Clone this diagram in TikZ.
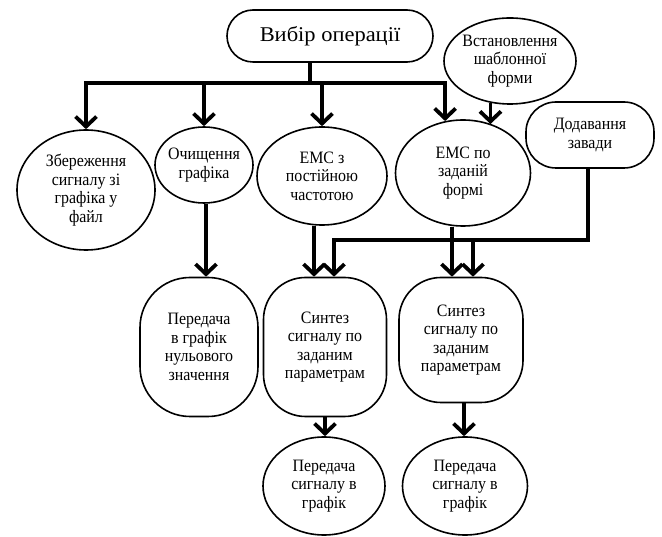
\documentclass[tikz,border=0pt]{standalone}
\usepackage{fontspec}
\setmainfont{Liberation Serif}
\newfontfamily\bodyfont{Liberation Serif}[FakeStretch=0.915]
\usetikzlibrary{shapes.geometric,arrows.meta,backgrounds}
\begin{document}
\begin{tikzpicture}[x=1pt,y=-1pt,
  box/.style={draw, fill=white, line width=1.6pt, align=center, inner sep=-20pt,
    font=\bodyfont\fontsize{17.4}{18.5}\selectfont},
  ell/.style={box, ellipse},
  rr/.style={box, rectangle, rounded corners=#1},
  conn/.style={line width=3.8pt},
  arr/.style={conn, -{Straight Barb[length=10pt,width=21pt]}},
]
\useasboundingbox (0,0) rectangle (662,537);

\node[rr=26pt, minimum width=206pt, minimum height=52pt, font=\fontsize{21}{24}\selectfont] (top) at (330,36) {\scalebox{1.07}[1]{Вибір операції}};
\node[ell, minimum width=132pt, minimum height=86pt] (inst) at (510,61) {Встановлення\\шаблонної\\форми};
\node[ell, minimum width=138pt, minimum height=120pt] (save) at (86,190) {Збереження\\сигналу зі\\графіка у\\файл};
\node[ell, minimum width=98pt, minimum height=76pt] (clean) at (204,165) {Очищення\\графіка};
\node[ell, minimum width=130pt, minimum height=98pt] (emcz) at (322,176) {ЕМС з\\постійною\\частотою};
\node[ell, minimum width=135pt, minimum height=106pt] (emcpo) at (463,173) {ЕМС по\\заданій\\формі};
\node[rr=30pt, minimum width=128pt, minimum height=66pt] (zav) at (590,135) {Додавання\\завади};
\node[rr=50pt, minimum width=118pt, minimum height=139pt] (zero) at (199,347) {Передача\\в графік\\нульового\\значення};
\node[rr=42pt, minimum width=123pt, minimum height=139pt] (synth1) at (325,347) {Синтез\\сигналу по\\заданим\\параметрам};
\node[rr=42pt, minimum width=124pt, minimum height=125pt] (synth2) at (461,340) {Синтез\\сигналу по\\заданим\\параметрам};
\node[ell, minimum width=122pt, minimum height=98pt] (pered1) at (324,486) {Передача\\сигналу в\\графік};
\node[ell, minimum width=125pt, minimum height=98pt] (pered2) at (465,486) {Передача\\сигналу в\\графік};

\begin{scope}[on background layer]
\coordinate (b0) at (310,83);
\coordinate (c2) at (334,240);
\coordinate (c3) at (473,240);
\draw[conn] (b0 |- top.south) -- (b0);
\draw[arr] (b0) -| (save);
\draw[arr] (b0) -| (clean);
\draw[arr] (b0) -| (emcz);
\draw[arr] (b0) -| (emcpo.109);
\draw[arr] (inst.245) -- (inst.245 |- emcpo.60);
\draw[arr] ([xshift=-8pt]emcz.south) -- ([xshift=-8pt]emcz.south |- synth1.north);
\draw[arr] ([xshift=-11pt]emcpo.south) -- ([xshift=-11pt]emcpo.south |- synth2.north);
\draw[arr] ([xshift=-2pt]zav.south) |- (c2) -- (c2 |- synth1.north);
\draw[arr] (c3) -- (c3 |- synth2.north);
\draw[arr] ([xshift=2pt]clean.south) -- ([xshift=2pt]clean.south |- zero.north);
\draw[arr] (synth1.south) -- (synth1.south |- pered1.north);
\draw[arr] ([xshift=3pt]synth2.south) -- ([xshift=3pt]synth2.south |- pered2.north);
\end{scope}
\end{tikzpicture}
\end{document}
